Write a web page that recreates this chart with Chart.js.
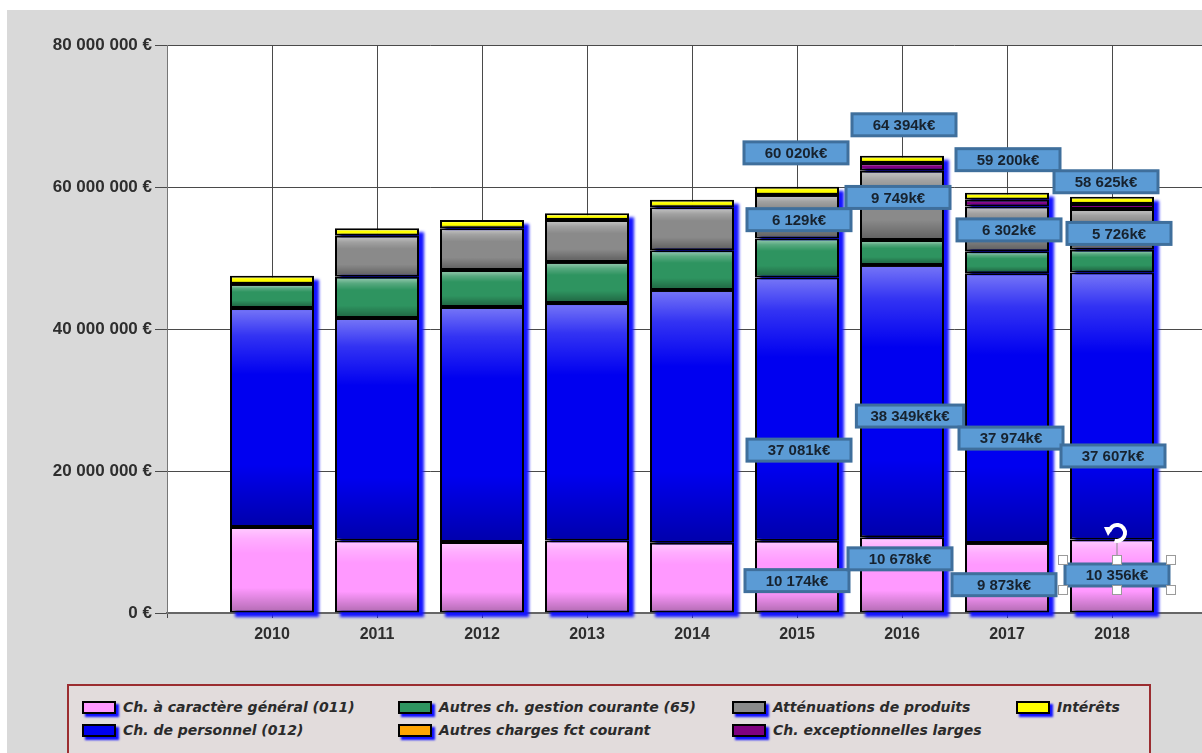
<!DOCTYPE html>
<html>
<head>
<meta charset="utf-8">
<script src="https://cdn.jsdelivr.net/npm/chart.js@4/dist/chart.umd.min.js"></script>
<style>
html, body { margin:0; padding:0; background:#fff; overflow:hidden; width:1202px; height:753px; }
#wrap { position:absolute; left:7px; top:10px; width:1217px; height:743px; background:#d9d9d9; overflow:hidden; }
#c { position:absolute; left:0; top:0; }
#legendBox { position:absolute; left:60px; top:674px; width:1084px; height:90px; box-sizing:border-box;
  border:2px solid #9b2d30; background:#e2dcdc; }
.item { position:absolute; height:18px; display:flex; align-items:center; white-space:nowrap;
  font:italic bold 14px "DejaVu Sans", Verdana, sans-serif; color:#2b2b2b; }
.sw { display:inline-block; width:30px; height:9px; border:2px solid #000; box-shadow:3px 3px 2px #1010ff; margin-right:7px; }
</style>
</head>
<body>
<div id="wrap">
  <canvas id="c" width="1217" height="743"></canvas>
  <div id="legendBox"></div>
</div>
<script>
// values in k€
var years = ['2010','2011','2012','2013','2014','2015','2016','2017','2018'];
var chGeneral      = [12100, 10200, 10000, 10200,  9900, 10174, 10678,  9873, 10356];
var chPersonnel    = [30850, 31350, 33100, 33450, 35600, 37081, 38349, 37974, 37607];
var autresGestion  = [ 3400,  5800,  5200,  5800,  5600,  5500,  3500,  3100,  3200];
var autresFct      = [    0,     0,     0,     0,     0,     0,     0,     0,     0];
var attenuations   = [    0,  5800,  5900,  5900,  6050,  6129,  9749,  6302,  5726];
var exceptionnelles= [    0,     0,     0,     0,     0,     0,  1100,   950,   700];
var interets       = [ 1150,  1050,  1150,   940,  1050,  1136,  1018,  1001,  1036];

var yTicks = [0, 20000, 40000, 60000, 80000];

// boxed labels (2015-2018)
var annotYears    = ['2015','2016','2017','2018'];
var totalText     = ['60 020k€','64 394k€','59 200k€','58 625k€'];
var attenText     = ['6 129k€','9 749k€','6 302k€','5 726k€'];
var personnelText = ['37 081k€','38 349k€k€','37 974k€','37 607k€'];
var generalText   = ['10 174k€','10 678k€','9 873k€','10 356k€'];

// hand placed offsets of the boxes, [dx, dy] in px
var nudgeTotal = [[-1,-34],[2,-31],[1,-33],[-6,-15]];
var nudgeAtten = [[2,3],[-4,-8],[2,1],[7,4]];
var nudgePers  = [[2,41],[8,15],[4,30],[1,50]];
var nudgeGen   = [[0,4],[-2,-16],[-3,7],[5,-1]];

var axisLabels = [''].concat(years).concat(['']);
function pad(arr){ return [null].concat(arr).concat([null]); }

var series = [
  { label:'Ch. à caractère général (011)', data:chGeneral, color:'#ff99ff' },
  { label:'Ch. de personnel (012)', data:chPersonnel, color:'#0000f0' },
  { label:'Autres ch. gestion courante (65)', data:autresGestion, color:'#2e9460' },
  { label:'Autres charges fct courant', data:autresFct, color:'#ffa500' },
  { label:'Atténuations de produits', data:attenuations, color:'#8a8a8a' },
  { label:'Ch. exceptionnelles larges', data:exceptionnelles, color:'#800080' },
  { label:'Intérêts', data:interets, color:'#ffff00' }
];

function fmt(n){
  return String(Math.round(n)).replace(/\B(?=(\d{3})+(?!\d))/g, ' ');
}
function stackSum(i){
  var s = 0;
  series.forEach(function(d){ s += d.data[i] || 0; });
  return s;
}

var whiteArea = {
  id:'whiteArea',
  beforeDraw: function(chart){
    var a = chart.chartArea, ctx = chart.ctx;
    ctx.save();
    ctx.fillStyle = '#ffffff';
    ctx.fillRect(a.left, a.top, a.right - a.left, a.bottom - a.top);
    ctx.restore();
  }
};

var barShadow = {
  id:'barShadow',
  beforeDatasetsDraw: function(chart){
    var ctx = chart.ctx, ys = chart.scales.y;
    var meta = chart.getDatasetMeta(0);
    ctx.save();
    ctx.filter = 'blur(1.5px)';
    ctx.fillStyle = '#1414ff';
    for (var i = 0; i < years.length; i++){
      var el = meta.data[i + 1];
      var top = ys.getPixelForValue(stackSum(i));
      var bottom = ys.getPixelForValue(0);
      ctx.fillRect(el.x - el.width/2 + 5, top + 4, el.width, bottom - top);
    }
    ctx.restore();
  }
};

var barShade = {
  id:'barShade',
  afterDatasetsDraw: function(chart){
    var ctx = chart.ctx;
    ctx.save();
    chart.data.datasets.forEach(function(ds, d){
      chart.getDatasetMeta(d).data.forEach(function(el){
        if (!el || isNaN(el.y)) return;
        var top = Math.min(el.y, el.base), h = Math.abs(el.base - el.y);
        if (h < 6) return;
        var l = el.x - el.width/2 + 2, w = el.width - 4, t = top + 2, hh = h - 4;
        var g = ctx.createLinearGradient(0, t, 0, t + hh);
        g.addColorStop(0, 'rgba(255,255,255,0.45)');
        g.addColorStop(0.12, 'rgba(255,255,255,0.2)');
        g.addColorStop(0.3, 'rgba(255,255,255,0)');
        g.addColorStop(0.72, 'rgba(0,0,0,0)');
        g.addColorStop(1, 'rgba(0,0,0,0.28)');
        ctx.fillStyle = g;
        ctx.fillRect(l, t, w, hh);
      });
    });
    ctx.restore();
  }
};

function drawBox(ctx, cx, cy, text){
  ctx.font = 'bold 15px "Liberation Sans", Arial, sans-serif';
  var w = Math.max(104, ctx.measureText(text).width + 28), h = 22;
  ctx.fillStyle = '#5b9bd5';
  ctx.fillRect(cx - w/2, cy - h/2, w, h);
  ctx.lineWidth = 3;
  ctx.strokeStyle = '#3f6f9c';
  ctx.strokeRect(cx - w/2, cy - h/2, w, h);
  ctx.fillStyle = '#17222e';
  ctx.textAlign = 'center';
  ctx.textBaseline = 'middle';
  ctx.fillText(text, cx, cy + 1);
  return { x:cx - w/2, y:cy - h/2, w:w, h:h };
}

function drawHandles(ctx, b){
  var x0 = b.x - 2, x1 = b.x + b.w + 2, y0 = b.y - 4, y1 = b.y + b.h + 4, xm = (x0 + x1)/2;
  ctx.strokeStyle = '#8a8a8a';
  ctx.lineWidth = 1;
  ctx.beginPath(); ctx.moveTo(xm, y0); ctx.lineTo(xm, y0 - 18); ctx.stroke();
  // rotate handle
  ctx.beginPath();
  ctx.lineWidth = 4;
  ctx.strokeStyle = '#ffffff';
  ctx.arc(xm, y0 - 27, 8, -Math.PI*0.95, Math.PI*0.6);
  ctx.stroke();
  ctx.fillStyle = '#ffffff';
  ctx.beginPath();
  ctx.moveTo(xm - 13, y0 - 33); ctx.lineTo(xm - 3, y0 - 33); ctx.lineTo(xm - 9, y0 - 24); ctx.closePath();
  ctx.fill();
  [[x0,y0],[xm,y0],[x1,y0],[x0,y1],[xm,y1],[x1,y1]].forEach(function(p){
    ctx.fillStyle = '#ffffff';
    ctx.fillRect(p[0] - 4, p[1] - 4, 8, 8);
    ctx.lineWidth = 1;
    ctx.strokeStyle = '#9a9a9a';
    ctx.strokeRect(p[0] - 4.5, p[1] - 4.5, 9, 9);
  });
}

var boxLabels = {
  id:'boxLabels',
  afterDraw: function(chart){
    var ctx = chart.ctx, ys = chart.scales.y;
    ctx.save();
    annotYears.forEach(function(yr, k){
      var i = years.indexOf(yr);
      function seg(d){ var el = chart.getDatasetMeta(d).data[i + 1]; return { x:el.x, y:(el.y + el.base)/2 }; }
      var x = chart.getDatasetMeta(0).data[i + 1].x;
      var topY = ys.getPixelForValue(stackSum(i));
      drawBox(ctx, x + nudgeTotal[k][0], topY + nudgeTotal[k][1], totalText[k]);
      var s = seg(4);
      drawBox(ctx, s.x + nudgeAtten[k][0], s.y + nudgeAtten[k][1], attenText[k]);
      s = seg(1);
      drawBox(ctx, s.x + nudgePers[k][0], s.y + nudgePers[k][1], personnelText[k]);
      s = seg(0);
      var b = drawBox(ctx, s.x + nudgeGen[k][0], s.y + nudgeGen[k][1], generalText[k]);
      if (k === annotYears.length - 1) drawHandles(ctx, b);
    });
    ctx.restore();
  }
};

var chart = new Chart(document.getElementById('c'), {
  type:'bar',
  data:{
    labels: axisLabels,
    datasets: series.map(function(s){
      return {
        label: s.label,
        data: pad(s.data),
        backgroundColor: s.color,
        borderColor: '#000000',
        borderWidth: 2,
        borderSkipped: false,
        categoryPercentage: 0.8,
        barPercentage: 1.0
      };
    })
  },
  options:{
    responsive:false,
    animation:false,
    devicePixelRatio:1,
    layout:{ padding:{ top:35, left:0, right:0, bottom:0 } },
    plugins:{ legend:{ display:false }, tooltip:{ enabled:false } },
    scales:{
      x:{
        stacked:true,
        offset:false,
        grid:{ color:'#4a4a4a', offset:false, tickLength:5, tickColor:'#4a4a4a' },
        border:{ color:'#666666', width:2 },
        ticks:{ font:{ family:'Liberation Sans', size:16, weight:'bold' }, color:'#2e2e2e', padding:7, autoSkip:false, maxRotation:0 },
        afterFit: function(scale){ scale.height = 140; }
      },
      y:{
        stacked:true,
        min:0, max:80000,
        afterBuildTicks: function(scale){ scale.ticks = yTicks.map(function(v){ return { value:v }; }); },
        grid:{ color:'#4a4a4a', tickLength:12, tickColor:'#4a4a4a' },
        border:{ color:'#777777', width:1 },
        ticks:{ font:{ family:'Liberation Sans', size:17, weight:'bold' }, color:'#2e2e2e', padding:3,
          callback: function(v){ return fmt(v * 1000) + ' €'; } },
        afterFit: function(scale){ scale.width = 160; }
      }
    }
  },
  plugins:[whiteArea, barShadow, barShade, boxLabels]
});

// legend, column by column like the original
var legendCols = [75, 391, 725, 1009];
var legendRows = [697, 720];
var wrap = document.getElementById('wrap');
series.forEach(function(s, i){
  var it = document.createElement('div');
  it.className = 'item';
  it.style.left = legendCols[Math.floor(i/2)] + 'px';
  it.style.top = (legendRows[i % 2] - 9) + 'px';
  var sw = document.createElement('span');
  sw.className = 'sw';
  sw.style.background = s.color;
  var tx = document.createElement('span');
  tx.textContent = s.label;
  it.appendChild(sw);
  it.appendChild(tx);
  wrap.appendChild(it);
});
</script>
</body>
</html>
